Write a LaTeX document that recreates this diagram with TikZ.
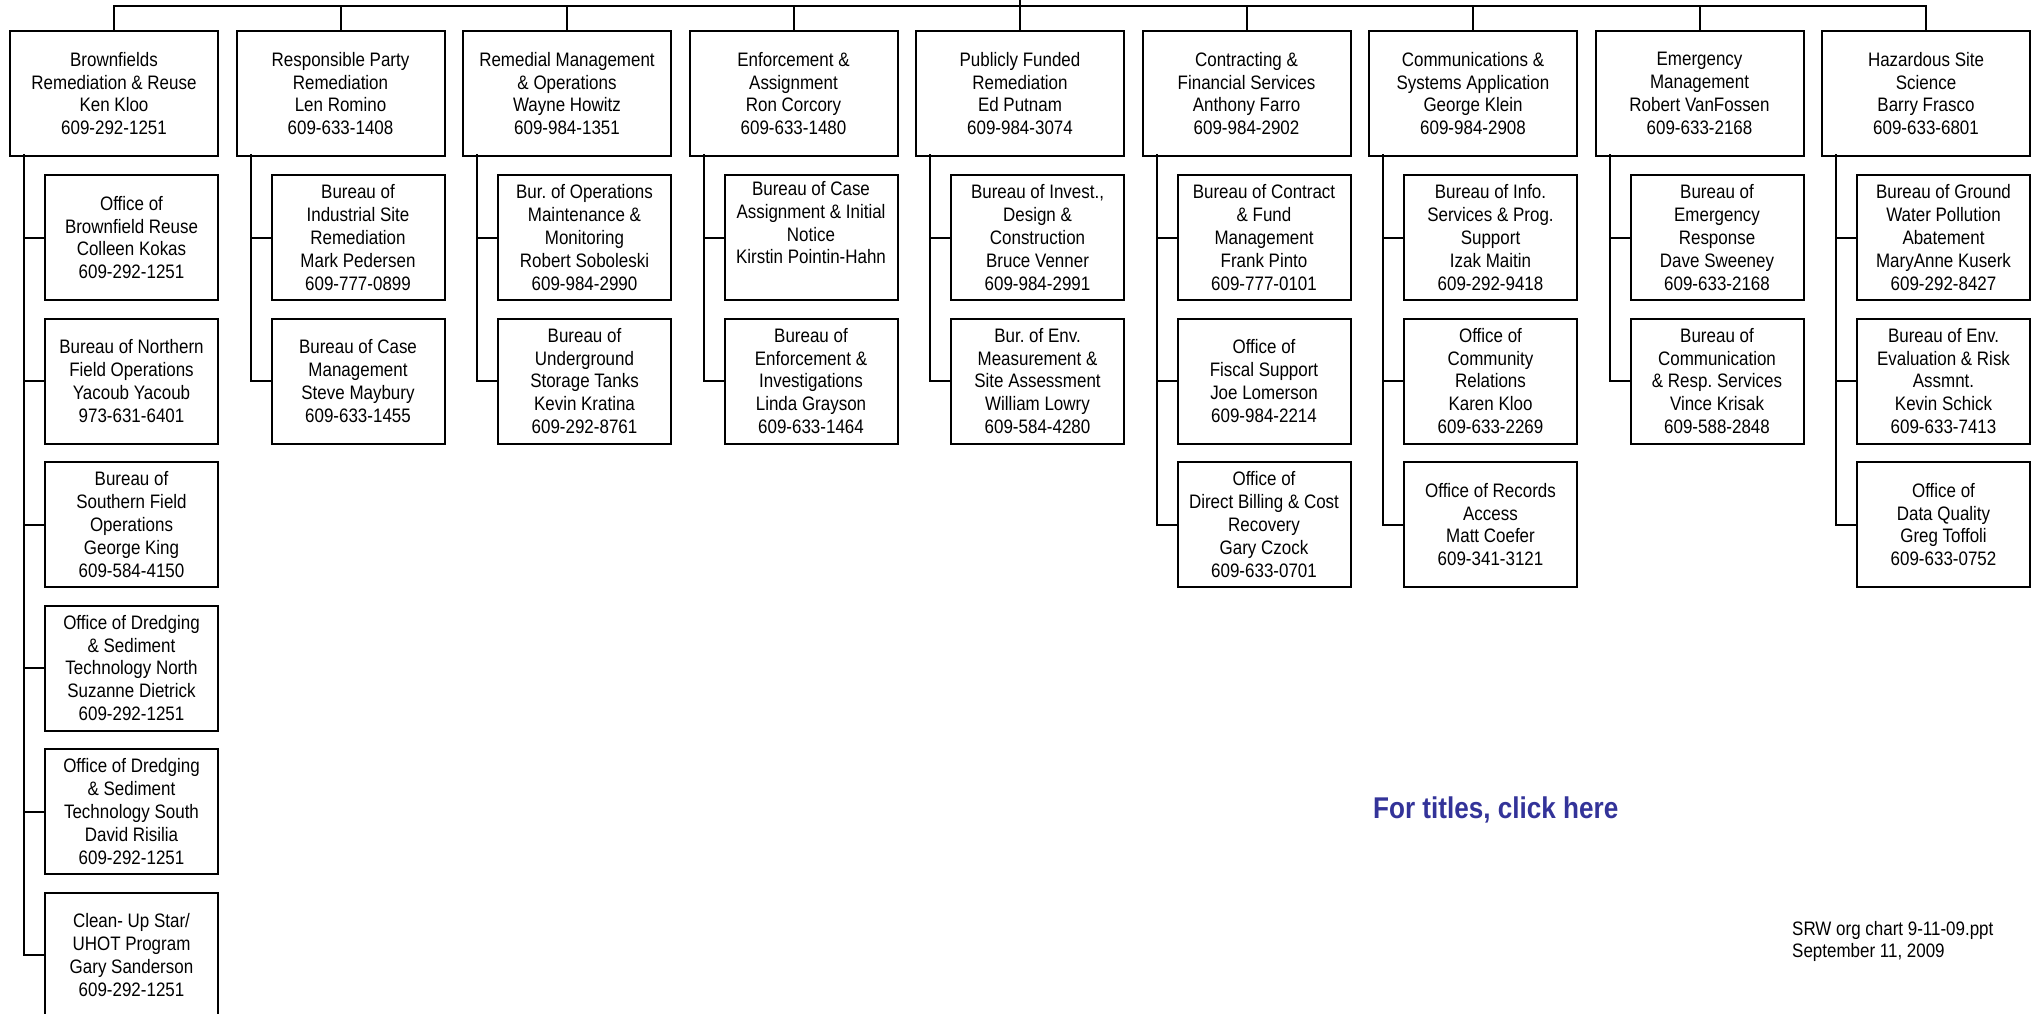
\documentclass[tikz,border=0pt]{standalone}
\usepackage{fontspec}
\setmainfont{Liberation Sans}[FakeStretch=0.87]
\frenchspacing
\definecolor{linkblue}{RGB}{51,51,153}
\newcommand\orgfont{\fontsize{19.5}{22.8}\selectfont\frenchspacing}
\tikzset{
  orgbox/.style={draw, line width=2pt, align=center, inner sep=0pt, font=\orgfont},
  headbox/.style={orgbox, minimum width=208pt, minimum height=125pt},
  subbox/.style={orgbox, minimum width=173pt, minimum height=125pt},
  wire/.style={line width=2pt},
}
\begin{document}
\begin{tikzpicture}[x=1pt,y=-1pt]
\useasboundingbox (0,0) rectangle (2034,1014);

% ---- top level
\node[headbox] (p1) at (114,93.5)   {Brownfields\\Remediation \& Reuse\\Ken Kloo\\609-292-1251};
\node[headbox] (p2) at (340.5,93.5) {Responsible Party\\Remediation\\Len Romino\\609-633-1408};
\node[headbox] (p3) at (567,93.5)   {Remedial Management\\\& Operations\\Wayne Howitz\\609-984-1351};
\node[headbox] (p4) at (793.5,93.5) {Enforcement \&\\Assignment\\Ron Corcory\\609-633-1480};
\node[headbox] (p5) at (1020,93.5)  {Publicly Funded\\Remediation\\Ed Putnam\\609-984-3074};
\node[headbox] (p6) at (1246.5,93.5){Contracting \&\\Financial Services\\Anthony Farro\\609-984-2902};
\node[headbox] (p7) at (1473,93.5)  {Communications \&\\Systems Application\\George Klein\\609-984-2908};
\node[headbox] (p8) at (1699.5,93.5){Emergency\\Management\\Robert VanFossen\\609-633-2168};
\node[headbox] (p9) at (1926,93.5)  {Hazardous Site\\Science\\Barry Frasco\\609-633-6801};

% ---- column 1
\node[subbox] (c11) at (131.5,237.5) {Office of\\Brownfield Reuse\\Colleen Kokas\\609-292-1251};
\node[subbox] (c12) at (131.5,381)   {Bureau of Northern\\Field Operations\\Yacoub Yacoub\\973-631-6401};
\node[subbox] (c13) at (131.5,524.5) {Bureau of\\Southern Field\\Operations\\George King\\609-584-4150};
\node[subbox] (c14) at (131.5,668)   {Office of Dredging\\\& Sediment\\Technology North\\Suzanne Dietrick\\609-292-1251};
\node[subbox] (c15) at (131.5,811.5) {Office of Dredging\\\& Sediment\\Technology South\\David Risilia\\609-292-1251};
\node[subbox] (c16) at (131.5,955)   {Clean- Up Star/\\UHOT Program\\Gary Sanderson\\609-292-1251};

% ---- column 2
\node[subbox] (c21) at (358,237.5) {Bureau of\\Industrial Site\\Remediation\\Mark Pedersen\\609-777-0899};
\node[subbox] (c22) at (358,381)   {Bureau of Case\\Management\\Steve Maybury\\609-633-1455};

% ---- column 3
\node[subbox] (c31) at (584.5,237.5) {Bur. of Operations\\Maintenance \&\\Monitoring\\Robert Soboleski\\609-984-2990};
\node[subbox] (c32) at (584.5,381)   {Bureau of\\Underground\\Storage Tanks\\Kevin Kratina\\609-292-8761};

% ---- column 4
\node[subbox] (c41) at (811,237.5) {Bureau of Case\\Assignment \& Initial\\Notice\\Kirstin Pointin-Hahn\\ \strut};
\node[subbox] (c42) at (811,381)   {Bureau of\\Enforcement \&\\Investigations\\Linda Grayson\\609-633-1464};

% ---- column 5
\node[subbox] (c51) at (1037.5,237.5) {Bureau of Invest.,\\Design \&\\Construction\\Bruce Venner\\609-984-2991};
\node[subbox] (c52) at (1037.5,381)   {Bur. of Env.\\Measurement \&\\Site Assessment\\William Lowry\\609-584-4280};

% ---- column 6
\node[subbox] (c61) at (1264,237.5) {Bureau of Contract\\\& Fund\\Management\\Frank Pinto\\609-777-0101};
\node[subbox] (c62) at (1264,381)   {Office of\\Fiscal Support\\Joe Lomerson\\609-984-2214};
\node[subbox] (c63) at (1264,524.5) {Office of\\Direct Billing \& Cost\\Recovery\\Gary Czock\\609-633-0701};

% ---- column 7
\node[subbox] (c71) at (1490.5,237.5) {Bureau of Info.\\Services \& Prog.\\Support\\Izak Maitin\\609-292-9418};
\node[subbox] (c72) at (1490.5,381)   {Office of\\Community\\Relations\\Karen Kloo\\609-633-2269};
\node[subbox] (c73) at (1490.5,524.5) {Office of Records\\Access\\Matt Coefer\\609-341-3121};

% ---- column 8
\node[subbox] (c81) at (1717,237.5) {Bureau of\\Emergency\\Response\\Dave Sweeney\\609-633-2168};
\node[subbox] (c82) at (1717,381)   {Bureau of\\Communication\\\& Resp. Services\\Vince Krisak\\609-588-2848};

% ---- column 9
\node[subbox] (c91) at (1943.5,237.5) {Bureau of Ground\\Water Pollution\\Abatement\\MaryAnne Kuserk\\609-292-8427};
\node[subbox] (c92) at (1943.5,381)   {Bureau of Env.\\Evaluation \& Risk\\Assmnt.\\Kevin Schick\\609-633-7413};
\node[subbox] (c93) at (1943.5,524.5) {Office of\\Data Quality\\Greg Toffoli\\609-633-0752};

% ---- top bus
\coordinate (stub) at (1020,0);
\coordinate (bus) at (1020,6);
\draw[wire] (stub) -- (bus);
\draw[wire] (p1.north) |- (bus) -| (p9.north);
\foreach \p in {p2,p3,p4,p5,p6,p7,p8}
  \draw[wire] (\p.north |- bus) -- (\p.north);

% ---- child connectors
\foreach \p/\c in {p1/c11,p1/c12,p1/c13,p1/c14,p1/c15,p1/c16,
                   p2/c21,p2/c22,p3/c31,p3/c32,p4/c41,p4/c42,p5/c51,p5/c52,
                   p6/c61,p6/c62,p6/c63,p7/c71,p7/c72,p7/c73,p8/c81,p8/c82,
                   p9/c91,p9/c92,p9/c93}
  \draw[wire] ([xshift=15pt,yshift=3pt]\p.south west) |- (\c.west);

% ---- notes
\node[anchor=west, inner sep=0pt, font=\fontsize{30}{34}\selectfont\bfseries, text=linkblue] (titles) at (1373,810) {For titles, click here};
\node[anchor=west, inner sep=0pt, align=left, font=\orgfont] (stamp) at (1792,941.5) {SRW org chart 9-11-09.ppt\\September 11, 2009};
\end{tikzpicture}
\end{document}
